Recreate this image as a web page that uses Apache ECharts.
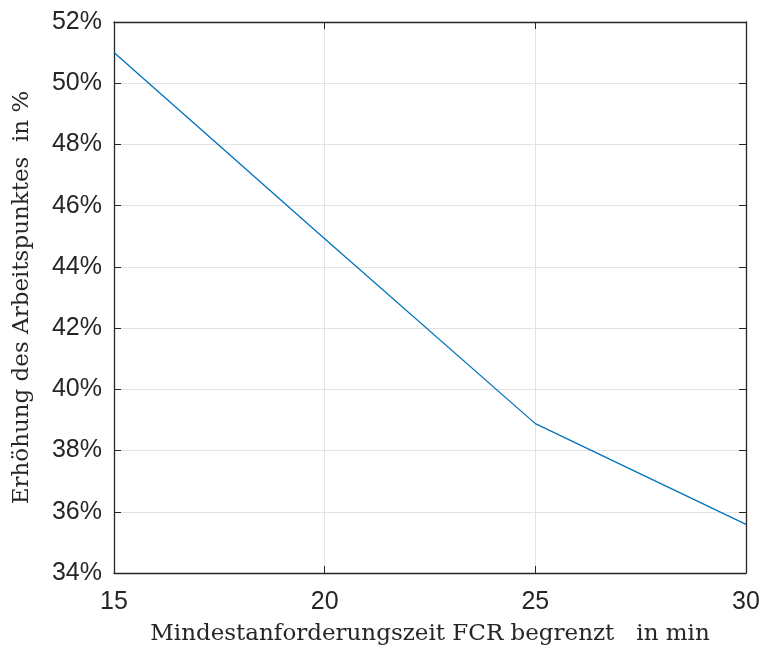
<!DOCTYPE html>
<html>
<head>
<meta charset="utf-8">
<script src="https://cdn.jsdelivr.net/npm/echarts@6/dist/echarts.min.js"></script>
<style>
  html, body { margin: 0; padding: 0; background: #ffffff; }
  #chart { width: 762px; height: 646px; }
</style>
</head>
<body>
<div id="chart"></div>
<script>
// Minimum FCR requirement time (min) vs. increase of the operating point (%)
const zeitMin = [15, 20, 25, 30];
const erhoehungProzent = [51.0, 44.92, 38.88, 35.59];
const xTicks = [15, 20, 25, 30];
const yTicks = [34, 36, 38, 40, 42, 44, 46, 48, 50, 52];

const axisColor = '#262626';
const gridColor = '#e3e3e3';
const tickFont = 'Liberation Sans, Arial, Helvetica, sans-serif';
const titleFont = 'DejaVu Serif, Liberation Serif, serif';

const points = zeitMin.map((x, i) => [x, erhoehungProzent[i]]);

const chart = echarts.init(document.getElementById('chart'), null, { renderer: 'canvas' });

chart.setOption({
  animation: false,
  backgroundColor: '#ffffff',
  grid: { left: 114, right: 16, top: 22, bottom: 73, containLabel: false, outerBoundsMode: 'none' },
  xAxis: [
    {
      type: 'value', position: 'bottom',
      min: xTicks[0], max: xTicks[xTicks.length - 1], interval: 5,
      name: 'Mindestanforderungszeit FCR begrenzt   in min',
      nameLocation: 'middle', nameGap: 50,
      nameTextStyle: { fontFamily: titleFont, fontSize: 23, color: axisColor },
      axisLine: { show: true, onZero: false, lineStyle: { color: axisColor, width: 1.3 } },
      axisTick: { show: true, inside: true, length: 7, lineStyle: { color: axisColor } },
      axisLabel: { fontFamily: tickFont, fontSize: 25, color: axisColor, margin: 17 },
      splitLine: { show: true, lineStyle: { color: gridColor, width: 1 } }
    },
    {
      type: 'value', position: 'top',
      min: xTicks[0], max: xTicks[xTicks.length - 1], interval: 5,
      axisLine: { show: true, onZero: false, lineStyle: { color: axisColor, width: 1.3 } },
      axisTick: { show: true, inside: true, length: 7, lineStyle: { color: axisColor } },
      axisLabel: { show: false },
      splitLine: { show: false }
    }
  ],
  yAxis: [
    {
      type: 'value', position: 'left',
      min: yTicks[0], max: yTicks[yTicks.length - 1], interval: 2,
      name: 'Erhöhung des Arbeitspunktes  in %',
      nameLocation: 'middle', nameGap: 80, nameRotate: 90,
      nameTextStyle: { fontFamily: titleFont, fontSize: 23, color: axisColor },
      axisLine: { show: true, onZero: false, lineStyle: { color: axisColor, width: 1.3 } },
      axisTick: { show: true, inside: true, length: 7, lineStyle: { color: axisColor } },
      axisLabel: { fontFamily: tickFont, fontSize: 25, color: axisColor, margin: 12,
                   formatter: v => v + '%' },
      splitLine: { show: true, lineStyle: { color: gridColor, width: 1 } }
    },
    {
      type: 'value', position: 'right',
      min: yTicks[0], max: yTicks[yTicks.length - 1], interval: 2,
      axisLine: { show: true, onZero: false, lineStyle: { color: axisColor, width: 1.3 } },
      axisTick: { show: true, inside: true, length: 7, lineStyle: { color: axisColor } },
      axisLabel: { show: false },
      splitLine: { show: false }
    }
  ],
  series: [
    {
      type: 'line',
      data: points,
      xAxisIndex: 0, yAxisIndex: 0,
      showSymbol: false,
      lineStyle: { color: '#0072bd', width: 1.3 },
      itemStyle: { color: '#0072bd' }
    }
  ]
});
</script>
</body>
</html>
